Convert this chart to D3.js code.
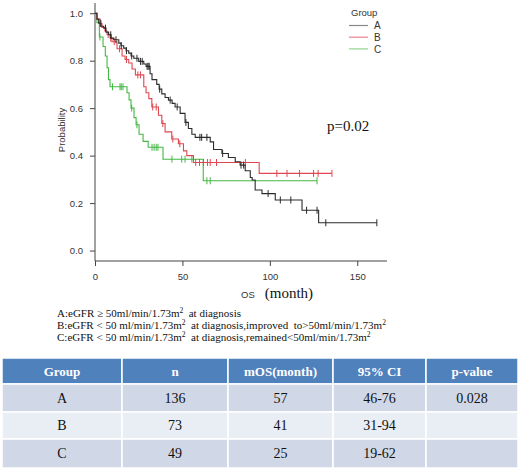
<!DOCTYPE html>
<html lang="en">
<head>
<meta charset="utf-8">
<title>Kaplan-Meier OS by eGFR group</title>
<style>
  body { margin: 0; background: #fff; }
  svg { display: block; }
  .axis path, .axis line { stroke: #444; }
  .axis text { font-family: "Liberation Sans", Arial, sans-serif; font-size: 9.5px; fill: #333; }
  .serif { font-family: "Liberation Serif", "Times New Roman", serif; }
  .sans { font-family: "Liberation Sans", Arial, sans-serif; }
</style>
</head>
<body>
<script src="https://cdn.jsdelivr.net/npm/d3@7"></script>
<script>
// ---- data ----
var groups = ["A", "B", "C"];
var colors = ["#2b2b2b", "#e0474f", "#45b844"];

// step points: time (month) where survival drops, and survival after the drop
var timesA = [0, 1.1, 2.1, 3.4, 5.0, 6.3, 7.8, 9.2, 10.7, 13.6, 14.9, 16.4, 17.8, 19.3, 20.6, 22.2, 25.0, 27.9,
  29.2, 31.5, 32.6, 35.3, 36.7, 38.2, 40.1, 42.0, 44.1, 45.8, 48.7, 51.5, 53.4, 55.4, 57.3, 65.9, 67.8, 72.6,
  76.3, 80.2, 83.0, 85.9, 88.8, 89.9, 91.6, 95.5, 103.1, 118.4, 127.9];
var survA = [1, 0.975, 0.958, 0.945, 0.937, 0.92, 0.909, 0.895, 0.888, 0.874, 0.863, 0.853, 0.842, 0.832, 0.82,
  0.81, 0.797, 0.786, 0.776, 0.745, 0.72, 0.70, 0.68, 0.66, 0.645, 0.634, 0.62, 0.605, 0.578, 0.54, 0.514, 0.49,
  0.477, 0.458, 0.426, 0.409, 0.392, 0.374, 0.36, 0.336, 0.308, 0.297, 0.255, 0.24, 0.213, 0.17, 0.117];
var censorA = [3, 6, 9, 12, 15, 18, 21, 24, 26, 27, 29.8, 30.4, 31, 37, 43, 47, 52, 60, 61, 64, 73, 83.5, 85,
  99, 106, 112, 121, 127, 132, 161.2];

var timesB = [0, 1.1, 2.9, 4.0, 5.7, 6.9, 8.6, 9.7, 12.6, 15.5, 17.2, 19.3, 21.2, 23.1, 27.9, 29.2, 30.8, 32.5,
  36.3, 38.2, 40.1, 43.9, 47.7, 50.6, 52.5, 56.3, 93.9];
var survB = [1, 0.975, 0.955, 0.94, 0.925, 0.91, 0.895, 0.88, 0.85, 0.82, 0.805, 0.79, 0.765, 0.74, 0.69, 0.665,
  0.64, 0.605, 0.57, 0.535, 0.50, 0.47, 0.45, 0.42, 0.40, 0.371, 0.325];
var censorB = [3.5, 7.5, 9, 11, 14, 18, 24.5, 26, 33, 35, 38.8, 44.5, 48.5, 57.6, 59.8, 62, 64.3, 65.9, 69.5, 86,
  104, 109.8, 117, 125, 127.6, 135.5];

var timesC = [0, 1.1, 2.5, 4.6, 5.9, 6.9, 7.7, 8.6, 18.3, 19.5, 20.6, 22.3, 23.5, 25.2, 27.5, 30.4, 38.9, 61.9];
var survC = [1, 0.96, 0.90, 0.86, 0.82, 0.77, 0.72, 0.69, 0.665, 0.635, 0.60, 0.56, 0.53, 0.49, 0.46, 0.435,
  0.385, 0.294];
var censorC = [2.8, 10, 14.3, 15, 16, 21, 24, 32.6, 33.8, 35, 36, 44, 49.6, 51.5, 55.4, 64, 65.9, 127];

var xTicks = [0, 50, 100, 150];
var yTicks = [0, 0.2, 0.4, 0.6, 0.8, 1.0];
var pText = "p=0.02";

// table
var tableHeader = ["Group", "n", "mOS(month)", "95% CI", "p-value"];
var nValues = ["136", "73", "49"];
var mosValues = ["57", "41", "25"];
var ciValues = ["46-76", "31-94", "19-62"];
var pValues = ["0.028", "", ""];

// ---- drawing ----
var w = 520, h = 470;
var svg = d3.select("body").append("svg").attr("width", w).attr("height", h);

var xScale = d3.scaleLinear().domain([0, 167]).range([95, 387]);
var yScale = d3.scaleLinear().domain([-0.044, 1.043]).range([261, 3]);

var xAxis = d3.axisBottom(xScale).tickValues(xTicks).tickSize(5).tickPadding(7);
var yAxis = d3.axisLeft(yScale).tickValues(yTicks).tickSize(5).tickPadding(7).tickFormat(d3.format(".1f"));

svg.append("g").attr("class", "axis")
  .attr("transform", "translate(0,261)")
  .call(xAxis)
  .call(function(g) { g.select(".domain").attr("d", "M95,0H387"); });

svg.append("g").attr("class", "axis")
  .attr("transform", "translate(95,0)")
  .call(yAxis)
  .call(function(g) { g.select(".domain").attr("d", "M0,3V261"); });

// axis titles
svg.append("text").attr("class", "sans")
  .attr("transform", "translate(65,130) rotate(-90)")
  .attr("text-anchor", "middle").attr("font-size", 9.5).attr("fill", "#333")
  .text("Probability");

var xt = svg.append("text").attr("x", 241).attr("y", 298).attr("text-anchor", "start");
xt.append("tspan").attr("class", "sans").attr("font-size", 9.5).attr("fill", "#333").text("OS");
xt.append("tspan").attr("class", "serif").attr("font-size", 15).attr("dx", 10).attr("fill", "#111").text("(month)");

// curves
var series = [
  { t: timesA, s: survA, c: censorA },
  { t: timesB, s: survB, c: censorB },
  { t: timesC, s: survC, c: censorC }
];
var lastT = [161.2, 135.5, 127];

var line = d3.line()
  .x(function(d) { return xScale(d[0]); })
  .y(function(d) { return yScale(d[1]); })
  .curve(d3.curveStepAfter);

function survAt(sr, t) {
  var v = 1;
  for (var i = 0; i < sr.t.length; i++) { if (sr.t[i] <= t) v = sr.s[i]; }
  return v;
}

// draw C first, then B, then A on top
[2, 1, 0].forEach(function(k) {
  var sr = series[k];
  var pts = sr.t.map(function(t, i) { return [t, sr.s[i]]; });
  pts.push([lastT[k], sr.s[sr.s.length - 1]]);
  svg.append("path").datum(pts)
    .attr("d", line)
    .attr("fill", "none")
    .attr("stroke", colors[k])
    .attr("stroke-width", 1.1);

  svg.append("g").selectAll("line")
    .data(sr.c)
    .enter().append("line")
    .attr("x1", function(d) { return xScale(d); })
    .attr("x2", function(d) { return xScale(d); })
    .attr("y1", function(d) { return yScale(survAt(sr, d)) - 3.5; })
    .attr("y2", function(d) { return yScale(survAt(sr, d)) + 3.5; })
    .attr("stroke", colors[k])
    .attr("stroke-width", 1);
});

// legend
var legend = svg.append("g").attr("class", "sans");
legend.append("text").attr("x", 351).attr("y", 16).attr("font-size", 9.5).attr("fill", "#333").text("Group");
var legendColors = ["#888", "#e8858a", "#8fd58c"];
groups.forEach(function(gname, i) {
  var y = 25.5 + i * 11.7;
  legend.append("line").attr("x1", 349).attr("x2", 368).attr("y1", y).attr("y2", y)
    .attr("stroke", legendColors[i]).attr("stroke-width", 1.2);
  legend.append("text").attr("x", 374).attr("y", y + 3.8).attr("font-size", 10).attr("fill", "#333").text(gname);
});

// p value
svg.append("text").attr("class", "serif").attr("x", 327).attr("y", 131)
  .attr("font-size", 15).attr("fill", "#111").text(pText);

// footnotes
var notes = [
  [["A:eGFR ", ""], ["\u2265", ""], [" 50ml/min/1.73m", ""], ["2", "sup"], ["  at diagnosis", ""]],
  [["B:eGFR ", ""], ["<", ""], [" 50 ml/min/1.73m", ""], ["2", "sup"], ["  at diagnosis,improved  to>50ml/min/1.73m", ""], ["2", "sup"]],
  [["C:eGFR ", ""], ["<", ""], [" 50 ml/min/1.73m", ""], ["2", "sup"], ["  at diagnosis,remained<50ml/min/1.73m", ""], ["2", "sup"]]
];
notes.forEach(function(parts, i) {
  var t = svg.append("text").attr("class", "serif").attr("x", 57).attr("y", 316.5 + i * 12.2)
    .attr("font-size", 11).attr("fill", "#111").style("white-space", "pre");
  parts.forEach(function(p, j) {
    var ts = t.append("tspan").text(p[0]);
    if (p[1] === "sup") ts.attr("font-size", 7.5).attr("dy", -4);
    else if (j > 0 && parts[j - 1][1] === "sup") ts.attr("dy", 4);
  });
});

// table
var colEdges = [2, 122, 228, 333, 426, 518];
var rowEdges = [358, 384, 412, 439, 468];
var rows = [tableHeader].concat(groups.map(function(g, i) {
  return [g, nValues[i], mosValues[i], ciValues[i], pValues[i]];
}));
var rowFill = ["#4f81bd", "#d0d8e8", "#e9edf4", "#d0d8e8"];

var table = svg.append("g");
rows.forEach(function(r, ri) {
  r.forEach(function(cell, ci) {
    table.append("rect")
      .attr("x", colEdges[ci]).attr("y", rowEdges[ri])
      .attr("width", colEdges[ci + 1] - colEdges[ci]).attr("height", rowEdges[ri + 1] - rowEdges[ri])
      .attr("fill", rowFill[ri]).attr("stroke", "#fff").attr("stroke-width", 1.5);
    table.append("text").attr("class", "serif")
      .attr("x", (colEdges[ci] + colEdges[ci + 1]) / 2)
      .attr("y", (rowEdges[ri] + rowEdges[ri + 1]) / 2 + 4.8)
      .attr("text-anchor", "middle")
      .attr("font-size", ri === 0 ? 13 : 14)
      .attr("font-weight", ri === 0 ? "bold" : "normal")
      .attr("fill", ri === 0 ? "#fff" : "#111")
      .text(cell);
  });
});
</script>
</body>
</html>
